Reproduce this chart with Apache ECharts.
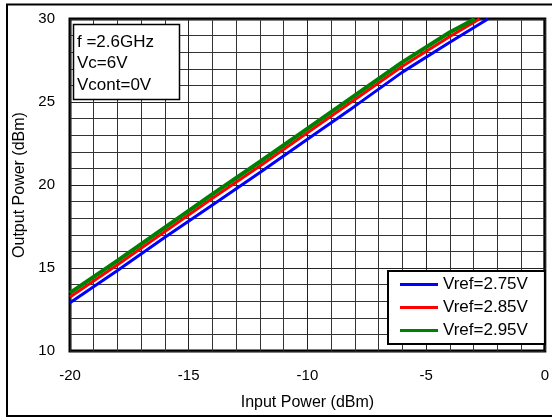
<!DOCTYPE html>
<html>
<head>
<meta charset="utf-8">
<script src="https://cdn.jsdelivr.net/npm/echarts@6/dist/echarts.min.js"></script>
<style>
  html, body { margin: 0; padding: 0; background: #fff; }
  #chart { width: 552px; height: 417px; }
</style>
</head>
<body>
<div id="chart"></div>
<script>
// 输入功率 (dBm) 与各 Vref 下的输出功率 (dBm)
const pinBlue = [-20, -18, -16, -14, -12, -10, -8, -6, -4, -2.4]
const poutBlue = [12.9, 14.85, 16.85, 18.8, 20.75, 22.75, 24.75, 26.8, 28.6, 30]
const pinRed = [-20, -18, -16, -14, -12, -10, -8, -6, -4, -2.75]
const poutRed = [13.25, 15.2, 17.2, 19.2, 21.15, 23.15, 25.15, 27.15, 28.95, 30]
const pinGreen = [-20, -18, -16, -14, -12, -10, -8, -6, -4, -2.95]
const poutGreen = [13.5, 15.45, 17.45, 19.45, 21.4, 23.4, 25.4, 27.4, 29.2, 30]

const seriesNames = ['Vref=2.75V', 'Vref=2.85V', 'Vref=2.95V']
const noteLines = ['f =2.6GHz', 'Vc=6V', 'Vcont=0V']

const zip = (xs, ys) => xs.map((x, i) => [x, ys[i]])

const font = 'Arial, "Liberation Sans", sans-serif'

const chart = echarts.init(document.getElementById('chart'))

const makeAxis = (min, max, name) => ({
  type: 'value',
  min: min,
  max: max,
  interval: 5,
  name: name,
  nameLocation: 'middle',
  nameTextStyle: { color: '#000', fontSize: 16, fontFamily: font },
  axisLine: { show: false, onZero: false },
  axisTick: { show: false },
  axisLabel: { color: '#000', fontSize: 15, fontFamily: font },
  splitLine: { show: true, lineStyle: { color: '#222', width: 1 } },
  minorTick: { show: false, splitNumber: 5 },
  minorSplitLine: { show: true, lineStyle: { color: '#333', width: 1 } }
})

const xAxis = makeAxis(-20, 0, 'Input Power (dBm)')
xAxis.nameGap = 44
xAxis.axisLabel.margin = 17
const yAxis = makeAxis(10, 30, 'Output Power (dBm)')
yAxis.nameGap = 37
yAxis.axisLabel.margin = 15

const lineSeries = (name, xs, ys, color, width) => ({
  name: name,
  type: 'line',
  data: zip(xs, ys),
  showSymbol: false,
  symbol: 'none',
  itemStyle: { color: color },
  lineStyle: { color: color, width: width }
})

const option = {
  backgroundColor: '#fff',
  animation: false,
  grid: {
    left: 70,
    right: 7,
    top: 19,
    bottom: 66,
    show: true,
    borderColor: '#000',
    borderWidth: 3
  },
  xAxis: xAxis,
  yAxis: yAxis,
  legend: {
    data: seriesNames,
    orient: 'vertical',
    left: 388,
    top: 271,
    padding: [5, 17, 5, 12],
    itemGap: 6,
    itemWidth: 38,
    itemHeight: 3,
    icon: 'rect',
    backgroundColor: '#fff',
    borderColor: '#000',
    borderWidth: 2,
    textStyle: { color: '#000', fontSize: 17, fontFamily: font }
  },
  series: [
    lineSeries(seriesNames[0], pinBlue, poutBlue, '#0000ff', 3),
    lineSeries(seriesNames[1], pinRed, poutRed, '#ff0000', 3),
    lineSeries(seriesNames[2], pinGreen, poutGreen, '#008000', 4)
  ],
  graphic: [
    {
      // 外框
      type: 'rect',
      z: 100,
      silent: true,
      shape: { x: 7, y: 4.5, width: 560, height: 411.5 },
      style: { fill: 'none', stroke: '#000', lineWidth: 2 }
    },
    {
      // 测试条件说明框
      type: 'rect',
      z: 100,
      silent: true,
      shape: { x: 73.5, y: 24.5, width: 106, height: 75 },
      style: { fill: '#fff', stroke: '#000', lineWidth: 1.5 }
    }
  ].concat(noteLines.map((t, i) => ({
    type: 'text',
    z: 101,
    silent: true,
    x: 77,
    y: 42 + i * 21.5,
    style: {
      text: t,
      fill: '#000',
      font: '17px ' + font,
      verticalAlign: 'middle'
    }
  })))
}

chart.setOption(option)
</script>
</body>
</html>
